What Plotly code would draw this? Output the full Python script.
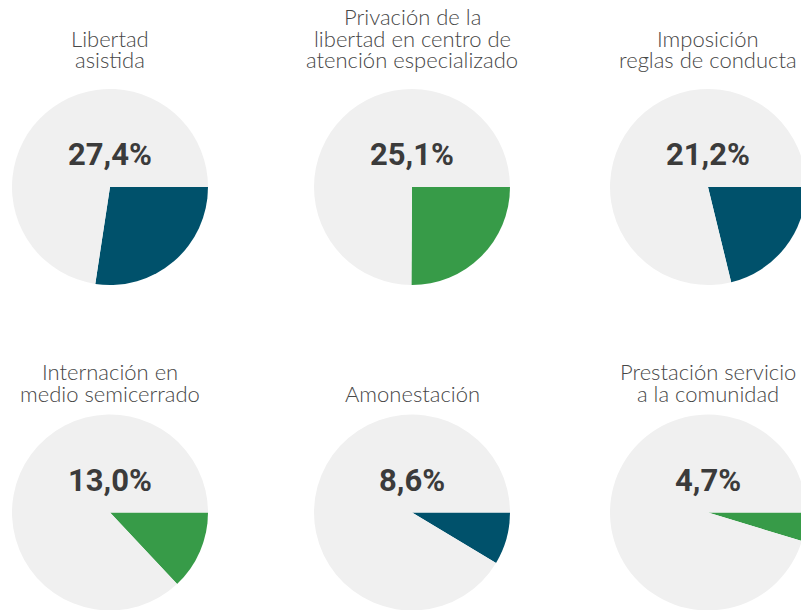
import plotly.graph_objects as go

# data
titles = [
    ["Libertad", "asistida"],
    ["Privación de la", "libertad en centro de", "atención especializado"],
    ["Imposición", "reglas de conducta"],
    ["Internación en", "medio semicerrado"],
    ["Amonestación"],
    ["Prestación servicio", "a la comunidad"],
]
percents = [27.4, 25.1, 21.2, 13.0, 8.6, 4.7]
labels = ["27,4%", "25,1%", "21,2%", "13,0%", "8,6%", "4,7%"]
colors = ["#00516b", "#379b48", "#00516b", "#379b48", "#00516b", "#379b48"]
rest_color = "#f0f0f0"

# layout geometry (px)
W, H = 810, 615
col_x = [110, 412, 708]
row_y = [187, 512.5]
last_line_y = [60, 393]
line_h = 21.5
R = 98

fig = go.Figure()
for i, p in enumerate(percents):
    cx = col_x[i % 3]
    cy = row_y[i // 3]
    fig.add_trace(go.Pie(
        values=[p, 100 - p],
        marker=dict(colors=[colors[i], rest_color], line=dict(width=0)),
        sort=False,
        direction="clockwise",
        rotation=90,
        textinfo="none",
        hoverinfo="skip",
        showlegend=False,
        domain=dict(x=[(cx - R) / W, (cx + R) / W],
                    y=[1 - (cy + R) / H, 1 - (cy - R) / H]),
    ))
    # percentage label
    fig.add_annotation(
        x=cx / W, y=1 - (cy - 32) / H, xref="paper", yref="paper",
        text=labels[i], showarrow=False, xanchor="center", yanchor="middle",
        font=dict(family="Roboto", size=31, color="#3b3b3b", weight="bold"),
    )
    # title, one annotation per line to keep the tight line spacing
    lines = titles[i]
    for k, line in enumerate(lines):
        ly = last_line_y[i // 3] - (len(lines) - 1 - k) * line_h
        fig.add_annotation(
            x=cx / W, y=1 - ly / H, xref="paper", yref="paper",
            text=line, showarrow=False, xanchor="center", yanchor="middle",
            font=dict(family="Lato", size=22, color="#474747", weight=300),
        )

fig.update_layout(
    width=W, height=H,
    margin=dict(l=0, r=0, t=0, b=0),
    paper_bgcolor="white",
    plot_bgcolor="white",
)

fig.write_html("out.html", config={"displayModeBar": False},
               post_script="document.body.style.margin='0';document.body.style.overflow='hidden';")
